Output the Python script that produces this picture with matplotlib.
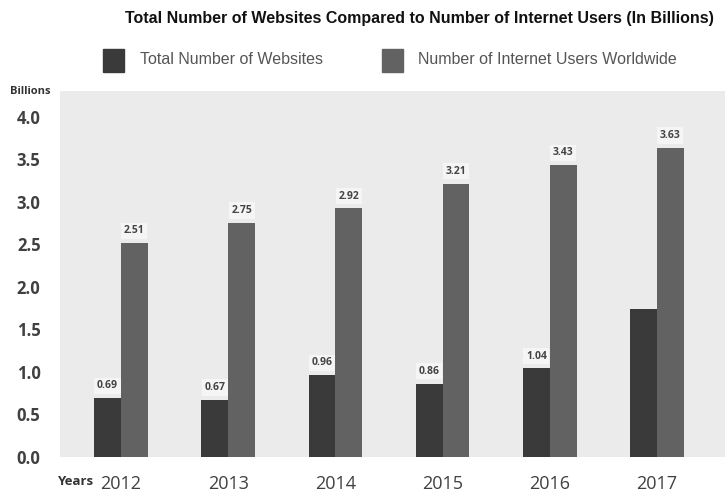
import matplotlib
matplotlib.use("Agg")
import matplotlib.pyplot as plt
from matplotlib.patches import Rectangle
import numpy as np

years = ["2012", "2013", "2014", "2015", "2016", "2017"]
websites = [0.69, 0.67, 0.96, 0.86, 1.04, 1.74]
users = [2.51, 2.75, 2.92, 3.21, 3.43, 3.63]
website_labels = ["0.69", "0.67", "0.96", "0.86", "1.04", ""]
user_labels = ["2.51", "2.75", "2.92", "3.21", "3.43", "3.63"]
yticks = [0.0, 0.5, 1.0, 1.5, 2.0, 2.5, 3.0, 3.5, 4.0]
series_names = ["Total Number of Websites", "Number of Internet Users Worldwide"]

sans = ["Liberation Sans", "DejaVu Sans"]
tickfont = ["Open Sans", "DejaVu Sans"]

W, H = 725, 494
fig = plt.figure(figsize=(7.25, 4.94), dpi=100)
ax = fig.add_axes([60 / W, 1 - 457 / H, 1 - 60 / W, (457 - 91) / H])
ax.set_facecolor("#ebebeb")

x = np.arange(len(years))
w = 0.25
c_web = "#3a3a3a"
c_usr = "#626262"
b1 = ax.bar(x - w / 2, websites, w, color=c_web)
b2 = ax.bar(x + w / 2, users, w, color=c_usr)

def label(xs, vals, labs):
    for xi, v, lab in zip(xs, vals, labs):
        if lab:
            ax.annotate(lab, (xi, v), xytext=(0, 5), textcoords="offset points",
                        ha="center", va="bottom", fontsize=7.5, fontweight="bold",
                        color="#444444", family=tickfont,
                        bbox=dict(boxstyle="square,pad=0.25", fc="#f5f5f5", ec="none"))

label(x - w / 2, websites, website_labels)
label(x + w / 2, users, user_labels)

ax.set_xlim(-0.569, 5.634)
ax.set_ylim(0, 4.30)
ax.set_yticks(yticks)
ax.set_yticklabels([f"{t:.1f}" for t in yticks], fontsize=12, fontweight="bold",
                   color="#404040", family=tickfont)
ax.set_xticks(x)
ax.set_xticklabels(years, fontsize=13, color="#404040", family=tickfont)
ax.tick_params(axis="both", length=0)
ax.tick_params(axis="y", pad=14)
ax.tick_params(axis="x", pad=13)
for s in ax.spines.values():
    s.set_visible(False)

fig.text(419 / W, 1 - 18 / H, "Total Number of Websites Compared to Number of Internet Users (In Billions)",
         ha="center", va="center", fontsize=11.5, fontweight="bold", family=sans, color="#111111")
fig.text(30 / W, 1 - 92 / H, "Billions", ha="center", va="center", fontsize=8,
         fontweight="bold", family=tickfont, color="#333333")
fig.text(75 / W, 1 - 481 / H, "Years", ha="center", va="center", fontsize=9.5,
         fontweight="bold", family=tickfont, color="#333333")

# legend
for (px, tx), col, name in zip([(103, 140), (382, 418)], [c_web, c_usr], series_names):
    fig.add_artist(Rectangle((px / W, 1 - 72 / H), 21 / W, 23 / H,
                             transform=fig.transFigure, color=col))
    fig.text(tx / W, 1 - 60 / H, name, ha="left", va="center", fontsize=11.5,
             family=sans, color="#555555")

fig.savefig("out.png", dpi=100)
